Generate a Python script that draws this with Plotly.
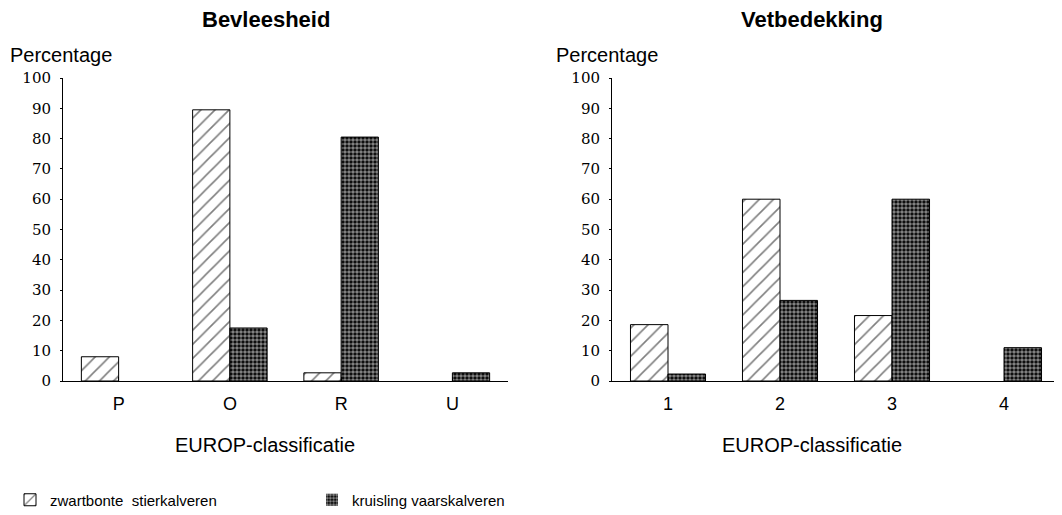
import plotly.graph_objects as go

# Data
cats_left = ["P", "O", "R", "U"]
cats_right = ["1", "2", "3", "4"]
zwartbonte_left = [8, 89.5, 2.7, 0]
kruisling_left = [0, 17.5, 80.5, 2.7]
zwartbonte_right = [18.6, 60, 21.6, 0]
kruisling_right = [2.3, 26.6, 60, 11]
yticks = [0, 10, 20, 30, 40, 50, 60, 70, 80, 90, 100]

name_a = "zwartbonte  stierkalveren"
name_b = "kruisling vaarskalveren"

# page body has an 8px margin: work in reference pixels, shift by OFF
OFF = 8
W, H = 1062 - OFF, 515 - OFF
L = 63 - OFF
R = W - (1060 - OFF)
T = 78 - OFF
B = H - (381 - OFF)
pw = W - L - R
ph = H - T - B

def px(pix):
    return (pix - OFF - L) / pw

def py(pix):
    return (H - B - (pix - OFF)) / ph

hatch = dict(shape="/", size=10, solidity=0.16, fgcolor="black", bgcolor="white", fillmode="overlay")
cross = dict(shape=".", size=4, solidity=0.62, fgcolor="white", bgcolor="black")

def lw(vals):
    return [1 if v > 0 else 0 for v in vals]

fig = go.Figure()
fig.add_trace(go.Bar(x=cats_left, y=zwartbonte_left, name=name_a, xaxis="x", yaxis="y",
                     marker=dict(color="white", pattern=hatch, line=dict(color="black", width=lw(zwartbonte_left))),
                     legendgroup="a"))
fig.add_trace(go.Bar(x=cats_left, y=kruisling_left, name=name_b, xaxis="x", yaxis="y",
                     marker=dict(color="black", pattern=cross, line=dict(color="black", width=lw(kruisling_left))),
                     legendgroup="b"))
fig.add_trace(go.Bar(x=cats_right, y=zwartbonte_right, name=name_a, xaxis="x2", yaxis="y2",
                     marker=dict(color="white", pattern=hatch, line=dict(color="black", width=lw(zwartbonte_right))),
                     legendgroup="a", showlegend=False))
fig.add_trace(go.Bar(x=cats_right, y=kruisling_right, name=name_b, xaxis="x2", yaxis="y2",
                     marker=dict(color="black", pattern=cross, line=dict(color="black", width=lw(kruisling_right))),
                     legendgroup="b", showlegend=False))

d1 = [0, px(508)]
d2 = [px(612), 1]

xcommon = dict(showline=True, linecolor="black", linewidth=1, ticks="inside", ticklen=4,
               tickcolor="black", showgrid=False, zeroline=False, range=[-0.5, 3.5],
               tickfont=dict(family="Liberation Sans", size=18, color="black"),
               ticklabelstandoff=6, type="category")
ycommon = dict(showline=True, linecolor="black", linewidth=1, ticks="outside", ticklen=2,
               tickcolor="black", showgrid=False, zeroline=False, range=[0, 100],
               tickvals=yticks, tickfont=dict(family="DejaVu Serif", size=15, color="black"),
               ticklabelstandoff=6)

fig.update_layout(
    width=W, height=H,
    margin=dict(l=L, r=R, t=T, b=B, autoexpand=False),
    paper_bgcolor="white", plot_bgcolor="white",
    barmode="group", bargap=0.33, bargroupgap=0,
    xaxis=dict(domain=d1, anchor="y", **xcommon),
    yaxis=dict(anchor="x", **ycommon),
    xaxis2=dict(domain=d2, anchor="y2", **xcommon),
    yaxis2=dict(anchor="x2", **ycommon),
    showlegend=True,
    legend=dict(orientation="h", x=(2 - L) / pw, xanchor="left", y=py(500),
                yanchor="middle", font=dict(family="Liberation Sans", size=15, color="black"),
                entrywidth=257, traceorder="normal", bgcolor="rgba(0,0,0,0)"),
    font=dict(family="Liberation Sans", color="black"),
)

ann = [
    dict(text="<b>Bevleesheid</b>", x=px(266), y=py(20), size=22),
    dict(text="<b>Vetbedekking</b>", x=px(812), y=py(20), size=22),
    dict(text="Percentage", x=px(61), y=py(55), size=20),
    dict(text="Percentage", x=px(607), y=py(55), size=20),
    dict(text="EUROP-classificatie", x=px(265), y=py(445), size=20),
    dict(text="EUROP-classificatie", x=px(812), y=py(445), size=20),
]
for a in ann:
    fig.add_annotation(text=a["text"], x=a["x"], y=a["y"], xref="paper", yref="paper",
                       xanchor="center", yanchor="middle", showarrow=False,
                       font=dict(family="Liberation Sans", size=a["size"], color="black"))

fig.write_html("out.html")
